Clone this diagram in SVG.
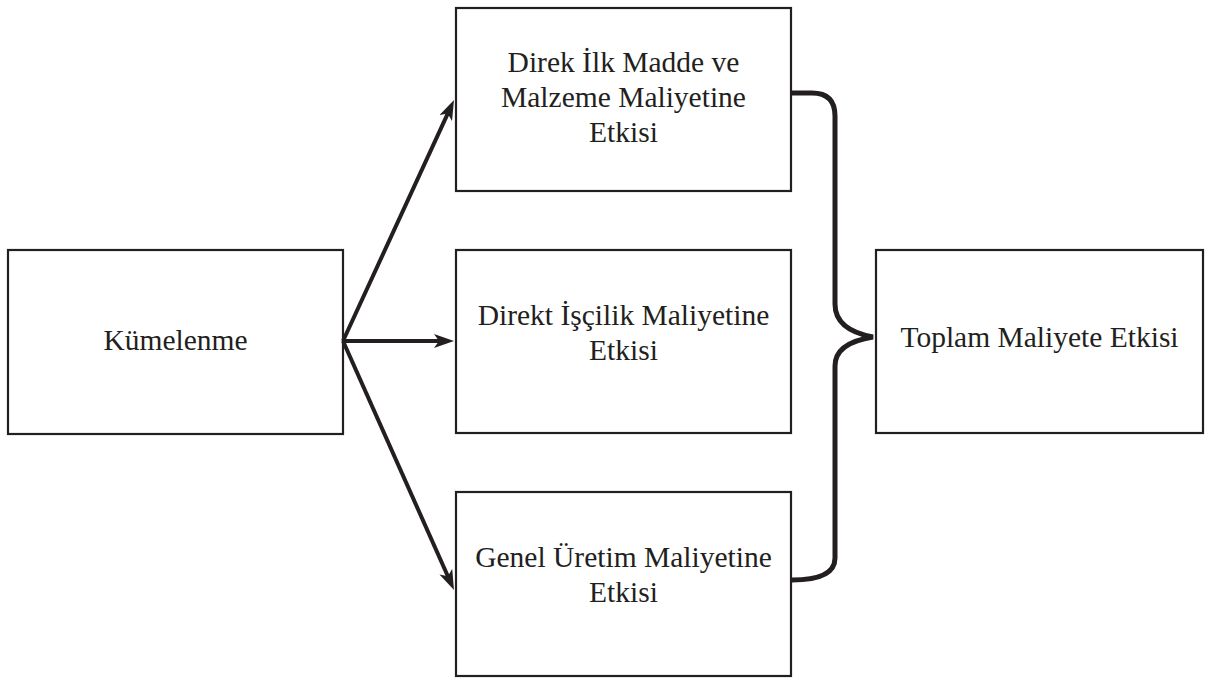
<svg xmlns="http://www.w3.org/2000/svg" width="1210" height="678" viewBox="0 0 1210 678">
<defs>
<style>
.box{fill:#fff;stroke:#231f20;stroke-width:2.2}
.t{font-family:"Liberation Serif","Times New Roman",serif;font-size:29.5px;fill:#231f20;text-anchor:middle}
.c{fill:none;stroke:#231f20;stroke-width:4}
.br{fill:none;stroke:#231f20;stroke-width:5;stroke-linejoin:miter}
</style>
<marker id="ah" viewBox="0 0 20 14" refX="8" refY="7" markerWidth="20" markerHeight="14" markerUnits="userSpaceOnUse" orient="auto">
<path d="M0,0 L20,7 L0,14 L5,7 Z" fill="#231f20"/>
</marker>
</defs>
<rect width="1210" height="678" fill="#fff"/>
<g id="kumelenme">
<rect class="box" x="8" y="250" width="335" height="184"/>
<text class="t" x="175.5" y="350">Kümelenme</text>
</g>
<g id="direk-ilk-madde">
<rect class="box" x="456" y="8" width="335" height="183"/>
<text class="t" x="623.5" y="72">Direk İlk Madde ve</text>
<text class="t" x="623.5" y="107">Malzeme Maliyetine</text>
<text class="t" x="623.5" y="142">Etkisi</text>
</g>
<g id="direkt-iscilik">
<rect class="box" x="456" y="250" width="335" height="183"/>
<text class="t" x="623.5" y="325">Direkt İşçilik Maliyetine</text>
<text class="t" x="623.5" y="360">Etkisi</text>
</g>
<g id="genel-uretim">
<rect class="box" x="456" y="492" width="335" height="184"/>
<text class="t" x="623.5" y="567">Genel Üretim Maliyetine</text>
<text class="t" x="623.5" y="602">Etkisi</text>
</g>
<g id="toplam">
<rect class="box" x="876" y="250" width="327" height="183"/>
<text class="t" x="1039.5" y="347">Toplam Maliyete Etkisi</text>
</g>
<g id="connectors">
<line class="c" x1="343" y1="341" x2="449" y2="110.9" marker-end="url(#ah)"/>
<line class="c" x1="343" y1="341" x2="442" y2="341" marker-end="url(#ah)"/>
<line class="c" x1="343" y1="341" x2="449.1" y2="579" marker-end="url(#ah)"/>
<path class="br" d="M791,93 L812,93 Q835,93 835,116 L835,304 Q835,330 873,337 Q835,343 835,366 L835,558 Q835,580 792,580"/>
</g>
</svg>
